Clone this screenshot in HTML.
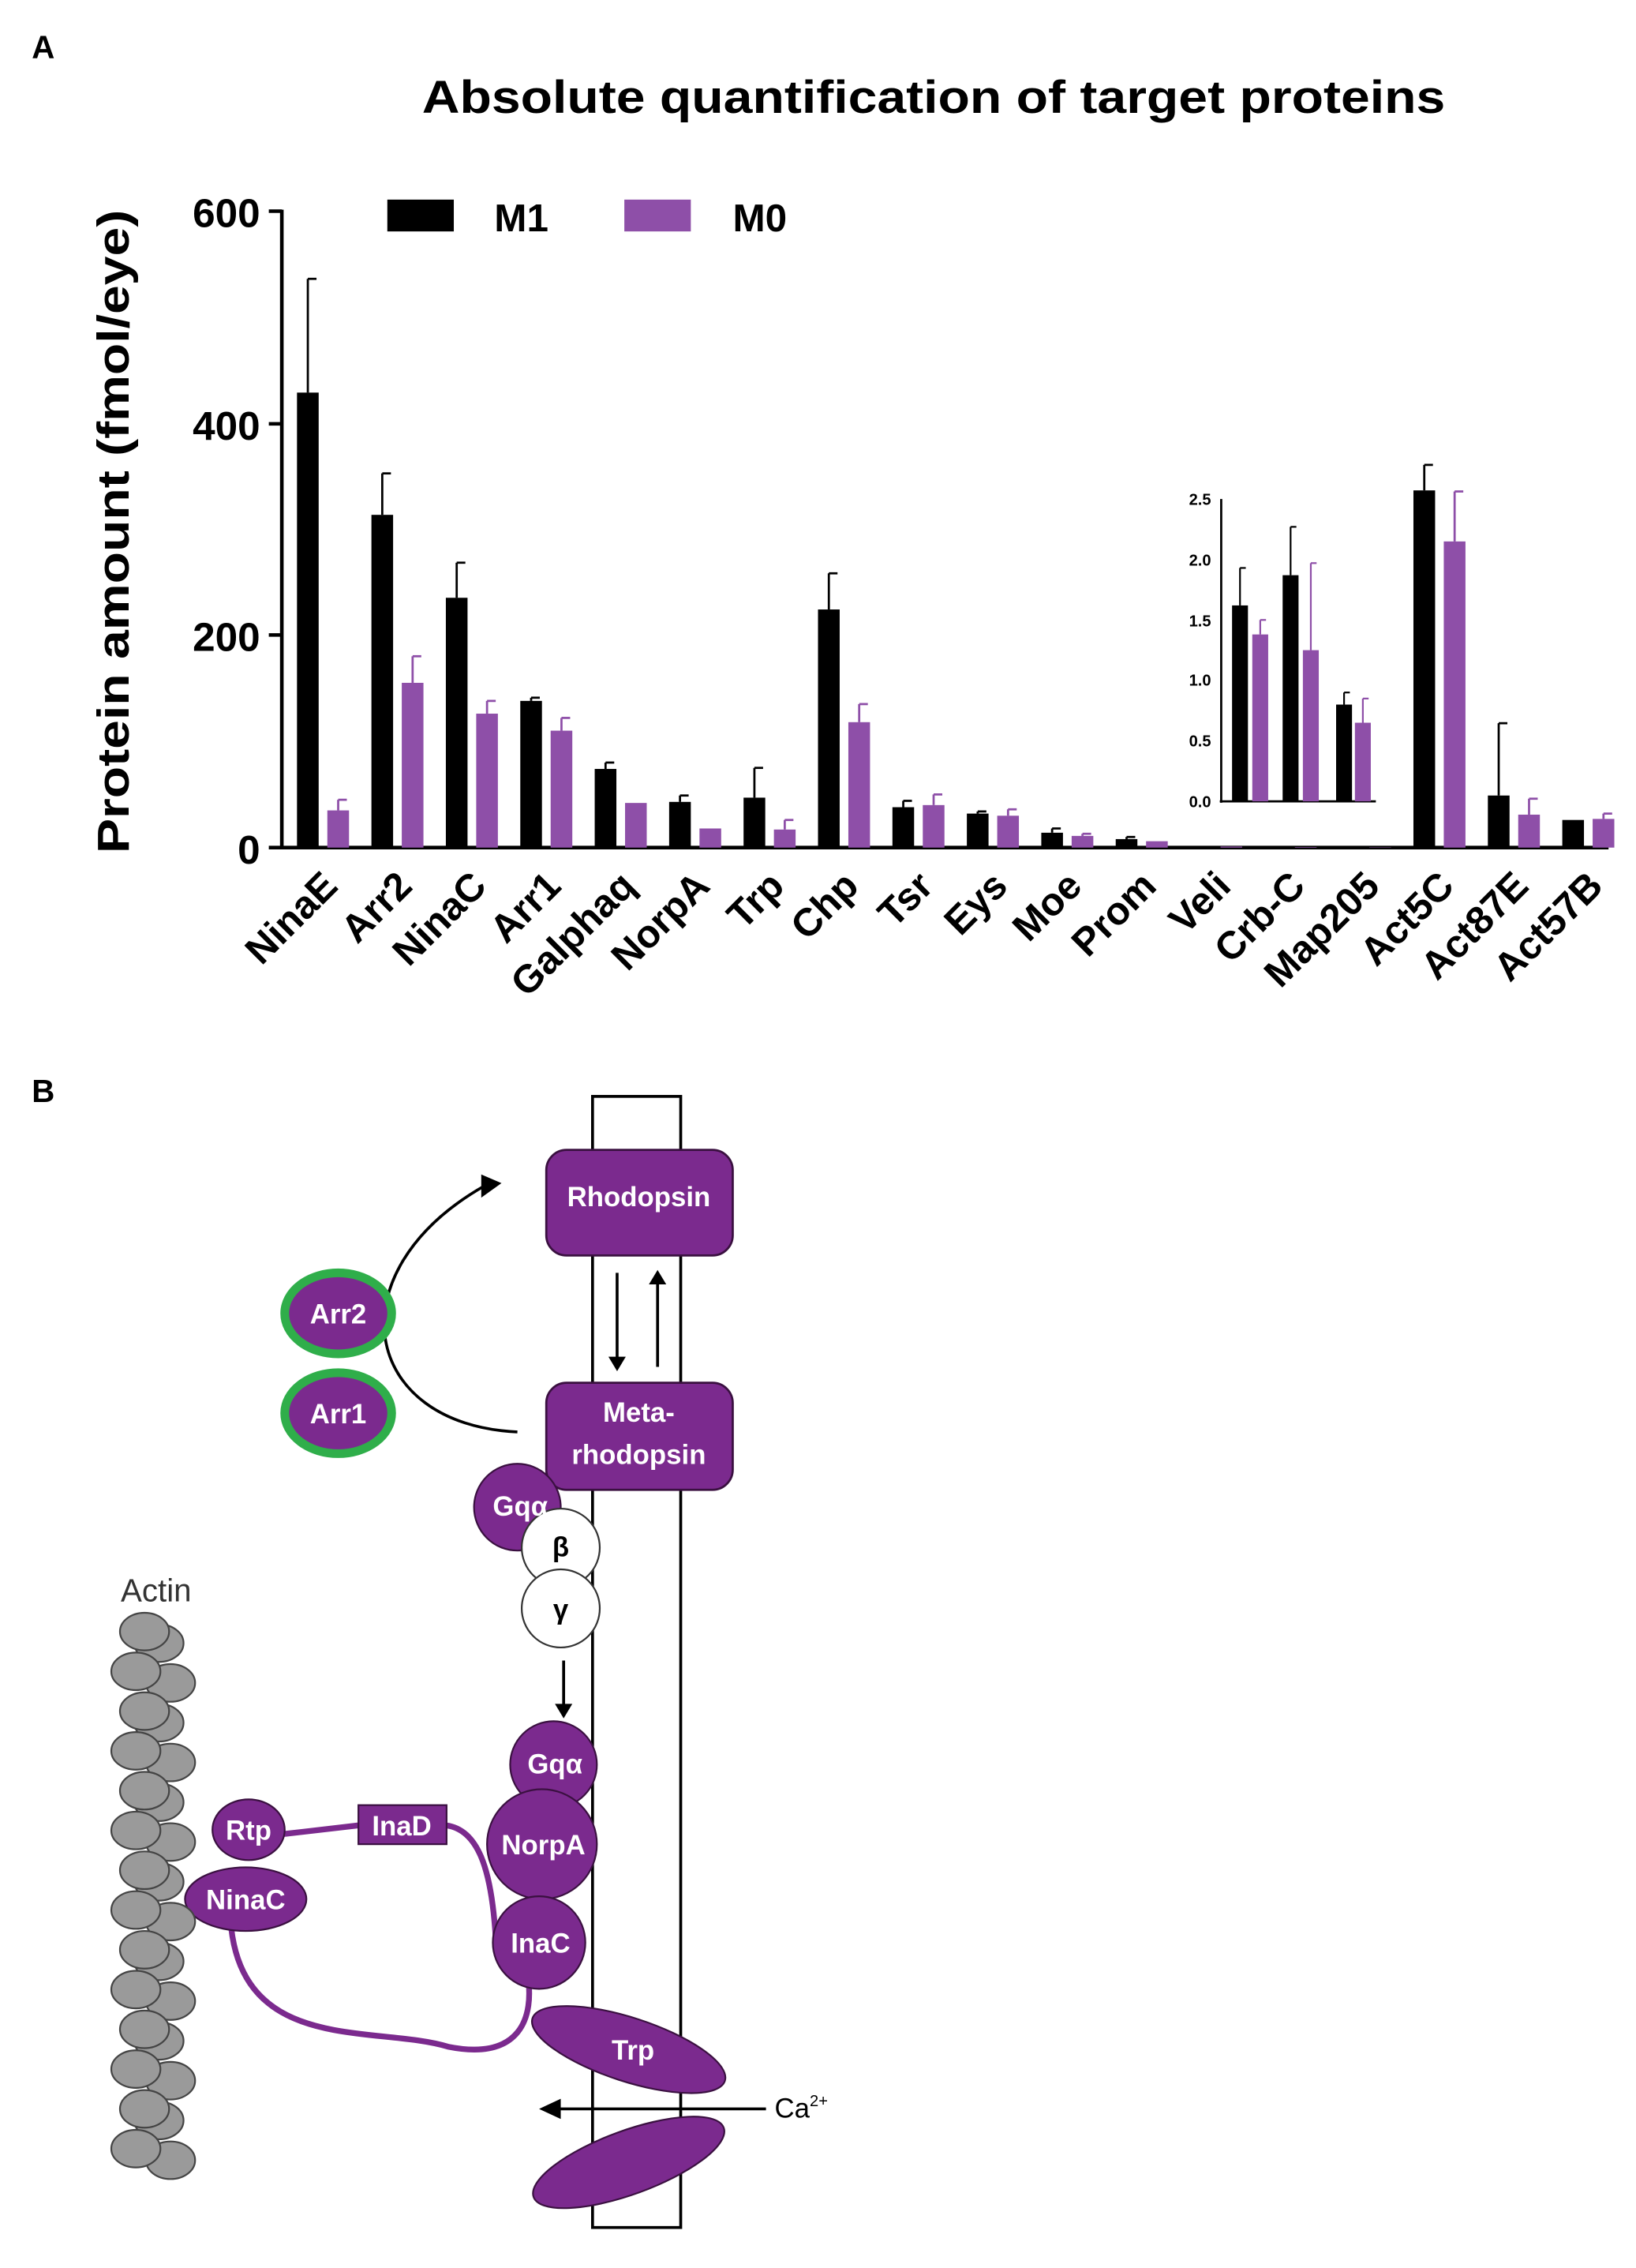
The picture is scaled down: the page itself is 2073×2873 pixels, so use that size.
<!DOCTYPE html>
<html><head><meta charset="utf-8"><style>
html,body{margin:0;padding:0;background:#fff;}
svg{display:block;}
text{font-family:"Liberation Sans",Arial,sans-serif;}
</style></head><body>
<svg width="2073" height="2873" viewBox="0 0 1132 1568" preserveAspectRatio="none" xmlns="http://www.w3.org/2000/svg">
<text x="22" y="40" font-size="22" font-weight="bold">A</text>
<text x="292" y="78" font-size="32" font-weight="bold" textLength="708" lengthAdjust="spacingAndGlyphs">Absolute quantification of target proteins</text>
<text transform="translate(89,590) rotate(-90)" font-size="31" font-weight="bold" textLength="445" lengthAdjust="spacingAndGlyphs">Protein amount (fmol/eye)</text>
<g stroke="#000" stroke-width="2.5">
<line x1="195" y1="145" x2="195" y2="587"/>
<line x1="194" y1="586" x2="1113" y2="586"/>
<line x1="186" y1="146" x2="195" y2="146"/><line x1="186" y1="293" x2="195" y2="293"/>
<line x1="186" y1="439" x2="195" y2="439"/><line x1="186" y1="586" x2="195" y2="586"/>
</g>
<g font-size="28" font-weight="bold" text-anchor="end">
<text x="180" y="157">600</text><text x="180" y="304">400</text><text x="180" y="450">200</text><text x="180" y="597">0</text>
</g>
<rect x="268" y="138" width="46" height="22" fill="#000"/>
<text x="342" y="160" font-size="27" font-weight="bold">M1</text>
<rect x="432" y="138" width="46" height="22" fill="#8e4fa8"/>
<text x="507" y="160" font-size="27" font-weight="bold">M0</text>
<g id="bars"></g>
<g id="labels" font-size="27" font-weight="bold" text-anchor="end"></g>
<g stroke="#000" stroke-width="1.5">
<line x1="845" y1="345" x2="845" y2="555"/><line x1="844" y1="554" x2="952" y2="554"/>
</g>
<g id="inset"></g>
<g font-size="11" font-weight="bold" text-anchor="end">
<text x="838" y="349">2.5</text><text x="838" y="391">2.0</text><text x="838" y="433">1.5</text>
<text x="838" y="474">1.0</text><text x="838" y="516">0.5</text><text x="838" y="558">0.0</text>
</g>
<text x="22" y="762" font-size="22" font-weight="bold">B</text>
<rect x="410" y="758" width="61" height="782" fill="none" stroke="#000" stroke-width="2"/>
<g fill="#7b2a8e" stroke="#3a1040" stroke-width="1.5">
<rect x="378" y="795" width="129" height="73" rx="14"/>
<rect x="378" y="956" width="129" height="74" rx="14"/>
</g>
<g fill="#fff" font-size="19" font-weight="bold" text-anchor="middle">
<text x="442" y="834">Rhodopsin</text>
<text x="442" y="983">Meta-</text><text x="442" y="1012">rhodopsin</text>
</g>
<g stroke="#000" stroke-width="2" fill="none">
<line x1="427" y1="880" x2="427" y2="940"/><line x1="455" y1="945" x2="455" y2="885"/>
<path d="M358,990 C250,985 230,880 335,820"/>
<line x1="390" y1="1148" x2="390" y2="1180"/>
<line x1="530" y1="1458" x2="385" y2="1458"/>
</g>
<g fill="#000">
<polygon points="421,938 433,938 427,948"/><polygon points="449,888 461,888 455,878"/>
<polygon points="333,812 347,818 333,828"/>
<polygon points="384,1178 396,1178 390,1188"/>
<polygon points="373,1458 388,1451 388,1465"/>
</g>
<text x="536" y="1464" font-size="19">Ca<tspan font-size="11" dy="-8">2+</tspan></text>
<g fill="#7b2a8e" stroke="#3a1040" stroke-width="1.5">
<ellipse cx="234" cy="908" rx="37" ry="28" stroke="#2fae4a" stroke-width="6"/>
<ellipse cx="234" cy="977" rx="37" ry="28" stroke="#2fae4a" stroke-width="6"/>
</g>
<g fill="#7b2a8e" stroke="#3a1040" stroke-width="1.2">
<circle cx="358" cy="1042" r="30"/>
</g>
<g fill="#fff" stroke="#333" stroke-width="1.2">
<circle cx="388" cy="1070" r="27"/><circle cx="388" cy="1112" r="27"/>
</g>
<g stroke="#7b2a8e" stroke-width="4" fill="none">
<path d="M196,1268 L248,1262"/>
<path d="M309,1262 C330,1265 340,1290 343,1340"/>
<path d="M160,1333 C170,1420 260,1400 310,1415 C360,1425 370,1395 365,1365"/>
</g>
<g fill="#7b2a8e" stroke="#3a1040" stroke-width="1.2">
<circle cx="383" cy="1220" r="30"/>
<circle cx="375" cy="1275" r="38"/>
<circle cx="373" cy="1343" r="32"/>
<ellipse cx="435" cy="1417" rx="70" ry="22" transform="rotate(18 435 1417)"/>
<ellipse cx="435" cy="1495" rx="70" ry="22" transform="rotate(-20 435 1495)"/>
<ellipse cx="172" cy="1265" rx="25" ry="21"/>
<ellipse cx="170" cy="1313" rx="42" ry="22"/>
<rect x="248" y="1248" width="61" height="27"/>
</g>
<g fill="#fff" font-size="19" font-weight="bold" text-anchor="middle">
<text x="234" y="915">Arr2</text><text x="234" y="984">Arr1</text>
<text x="360" y="1048">Gqα</text><text x="384" y="1226">Gqα</text><text x="376" y="1282">NorpA</text>
<text x="374" y="1350">InaC</text><text x="438" y="1424">Trp</text>
<text x="172" y="1272">Rtp</text><text x="170" y="1320">NinaC</text><text x="278" y="1269">InaD</text>
</g>
<g font-size="19" font-weight="bold" text-anchor="middle" fill="#000">
<text x="388" y="1076">β</text><text x="388" y="1119">γ</text>
</g>
<text x="108" y="1107" font-size="22" text-anchor="middle" fill="#333">Actin</text>
<g id="actin" fill="#9a9a9a" stroke="#444" stroke-width="1.2"></g>
<script>
var ns="http://www.w3.org/2000/svg";
function el(p,t,a){var e=document.createElementNS(ns,t);for(var k in a)e.setAttribute(k,a[k]);p.appendChild(e);return e;}
var names=["NinaE","Arr2","NinaC","Arr1","Galphaq","NorpA","Trp","Chp","Tsr","Eys","Moe","Prom","Veli","Crb-C","Map205","Act5C","Act87E","Act57B"];
var m1=[428,313,235,138,74,43,47,224,38,32,14,8,1,0.5,0.3,336,49,26];
var e1=[535,352,268,141,80,49,75,258,44,34,18,10,1,0.5,0.3,360,117,27];
var m0=[35,155,126,110,42,18,17,118,40,30,11,6,1,0.5,0.3,288,31,27];
var e0=[45,180,138,122,43,19,26,135,50,36,13,7,1,0.5,0.3,335,46,32];
var g=document.getElementById("bars"),L=document.getElementById("labels");
function Y(v){return 586-v*0.735;}
for(var i=0;i<18;i++){
 var cx=213+51.5*i;
 [[cx,m1[i],e1[i],"#000"],[cx+21,m0[i],e0[i],"#8e4fa8"]].forEach(function(b){
  var y=Y(b[1]);
  el(g,"rect",{x:b[0]-7.5,y:y,width:15,height:586-y,fill:b[3]});
  if(b[2]>b[1]+1){el(g,"line",{x1:b[0],x2:b[0],y1:y,y2:Y(b[2]),stroke:b[3],"stroke-width":1.5});
   el(g,"line",{x1:b[0],x2:b[0]+6,y1:Y(b[2]),y2:Y(b[2]),stroke:b[3],"stroke-width":1.5});}
 });
 var t=el(L,"text",{transform:"translate("+(cx+22)+",614) rotate(-45)"});t.textContent=names[i];
}
var ins=document.getElementById("inset");
function IY(v){return 554-v*83.6;}
[[858,1.62,1.93,"#000"],[872,1.38,1.5,"#8e4fa8"],[893,1.87,2.27,"#000"],[907,1.25,1.97,"#8e4fa8"],[930,0.8,0.9,"#000"],[943,0.65,0.85,"#8e4fa8"]].forEach(function(b){
 var y=IY(b[1]);el(ins,"rect",{x:b[0]-5.5,y:y,width:11,height:554-y,fill:b[3]});
 el(ins,"line",{x1:b[0],x2:b[0],y1:y,y2:IY(b[2]),stroke:b[3],"stroke-width":1.2});
 el(ins,"line",{x1:b[0],x2:b[0]+4,y1:IY(b[2]),y2:IY(b[2]),stroke:b[3],"stroke-width":1.2});
});
var A=document.getElementById("actin");
for(var j=0;j<14;j++){var y=1128+j*27.5;
 el(A,"ellipse",{cx:(j%2?118:110),cy:y+8,rx:17,ry:13});
 el(A,"ellipse",{cx:(j%2?94:100),cy:y,rx:17,ry:13});
}
</script>
</svg>
</body></html>
